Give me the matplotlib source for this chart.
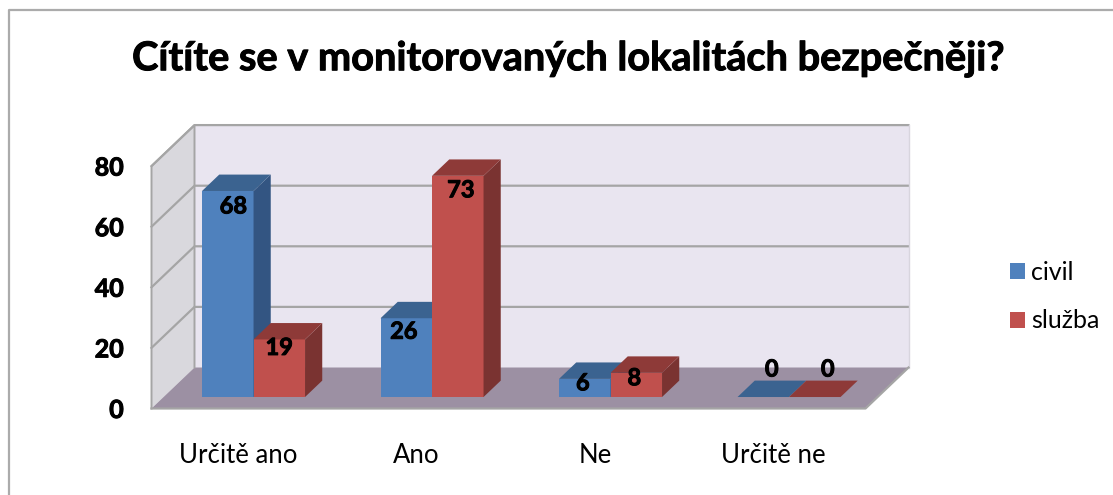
import matplotlib
matplotlib.use("Agg")
import matplotlib.pyplot as plt
import matplotlib.patheffects as pe
from matplotlib.lines import Line2D
import numpy as np

categories = ["Určitě ano", "Ano", "Ne", "Určitě ne"]
civil = [68, 26, 6, 0]
sluzba = [19, 73, 8, 0]
y_ticks = [0, 20, 40, 60, 80]

W, H = 1113, 495
plt.rcParams['font.family'] = ['Lato', 'DejaVu Sans']

# fake 3d: one unit of depth moves a point this far in data units
DX = 43 / 178.5
DY = 41 / 3.03
BAR_START = 0.2157
BAR_W = 0.2885
D0 = 0.28
D1 = 0.68

SERIES = [
    ("civil", civil, "#4F81BD", "#3B6390", "#335582"),
    ("služba", sluzba, "#C0504D", "#8E3A38", "#7A3331"),
]
# data label offsets from top of bar front, pixels (right, up)
LABEL_OFF = [
    [(5.5, -15), (-2.5, -13), (-2, -4), (8.5, 28)],
    [(0, -8), (3, -14), (-2, -5), (13, 28)],
]
# thickens the bold text a bit, the original is heavier than Lato Bold
HEAVY = [pe.withStroke(linewidth=0.7, foreground="black")]

fig = plt.figure(figsize=(W / 100, H / 100), dpi=100)
ax = fig.add_axes([151.5 / W, 1 - 408.5 / H, 714 / W, 242.4 / H])
ax.set_xlim(0, 4)
ax.set_ylim(0, 80)
ax.patch.set_visible(False)
for s in ax.spines.values():
    s.set_visible(False)

# walls and floor
ax.fill([0, DX, DX, 0], [0, DY, 80 + DY, 80], color="#D9D8DD", lw=0, clip_on=False, zorder=1)
ax.fill([DX, 4 + DX, 4 + DX, DX], [DY, DY, 80 + DY, 80 + DY], color="#E9E5F0", lw=0, clip_on=False, zorder=1)
ax.fill([0, 4, 4 + DX, DX], [0, 0, DY, DY], color="#9C90A3", lw=0, clip_on=False, zorder=2)

grid_c = "#A5A5A5"
for v in y_ticks[1:]:
    ax.plot([0, DX, 4 + DX], [v, v + DY, v + DY], color=grid_c, lw=1.6, clip_on=False, zorder=3)
ax.plot([4 + DX, 4 + DX], [DY, 80 + DY], color="#D8D5DE", lw=1, clip_on=False, zorder=3)
ax.plot([0, 0, DX, DX], [0, 80, 80 + DY, DY], color=grid_c, lw=1.4, clip_on=False, zorder=3)
ax.plot([0, 4, 4 + DX], [0, 0, DY], color=grid_c, lw=1.6, clip_on=False, zorder=3)

# bars, drawn left to right so each one hides the side of the one before
z = 4
x_base = np.arange(len(categories)) + BAR_START + D0 * DX
y_base = D0 * DY
ddx = (D1 - D0) * DX
ddy = (D1 - D0) * DY
for i in range(len(categories)):
    for j, (name, vals, front, top, side) in enumerate(SERIES):
        x0 = x_base[i] + j * BAR_W
        x1 = x0 + BAR_W
        v = vals[i]
        ax.bar(x0, v, width=BAR_W, bottom=y_base, align="edge", color=front, lw=0, clip_on=False, zorder=z)
        yt = y_base + v
        ax.fill([x1, x1 + ddx, x1 + ddx, x1], [y_base, y_base + ddy, yt + ddy, yt], color=side, lw=0, clip_on=False, zorder=z)
        ax.fill([x0, x1, x1 + ddx, x0 + ddx], [yt, yt, yt + ddy, yt + ddy], color=top, lw=0, clip_on=False, zorder=z)
        z += 1

for i in range(len(categories)):
    for j, (name, vals, front, top, side) in enumerate(SERIES):
        ox, oy = LABEL_OFF[j][i]
        ax.annotate(str(vals[i]), (x_base[i] + (j + 0.5) * BAR_W, y_base + vals[i]),
                    xytext=(ox * 0.72, oy * 0.72), textcoords="offset points",
                    ha="center", va="center", fontsize=17, fontweight="bold",
                    color="black", zorder=50, annotation_clip=False, path_effects=HEAVY)

ax.set_yticks(y_ticks)
ax.set_xticks(np.arange(len(categories)) + 0.485)
ax.set_xticklabels(categories, fontsize=18.5)
ax.tick_params(axis="both", length=0)
ax.tick_params(axis="y", pad=20, labelsize=18)
ax.tick_params(axis="x", pad=24.5)
for t in ax.get_yticklabels():
    t.set_fontweight("bold")
    t.set_path_effects(HEAVY)

fig.text(568 / W, 1 - 59 / H, "Cítíte se v monitorovaných lokalitách bezpečněji?",
         ha="center", va="center", fontsize=28.6, fontweight="bold", color="black", path_effects=HEAVY)

# legend
handles = [plt.Rectangle((0, 0), 1, 1, color=s[2], lw=0) for s in SERIES]
fig.legend(handles, [s[0] for s in SERIES], loc="center left",
           bbox_to_anchor=(1000 / W, 1 - 296.5 / H), frameon=False, fontsize=18,
           handlelength=0.6, handleheight=0.6, handletextpad=0.25, labelspacing=1.03,
           borderaxespad=0, borderpad=0.4)

# chart frame, only left and top are in the crop
fig.add_artist(Line2D([9 / W, 9 / W, 1], [0, 1 - 10 / H, 1 - 10 / H], color="#ABABAB", lw=1.6))

fig.savefig("out.png", dpi=100)
